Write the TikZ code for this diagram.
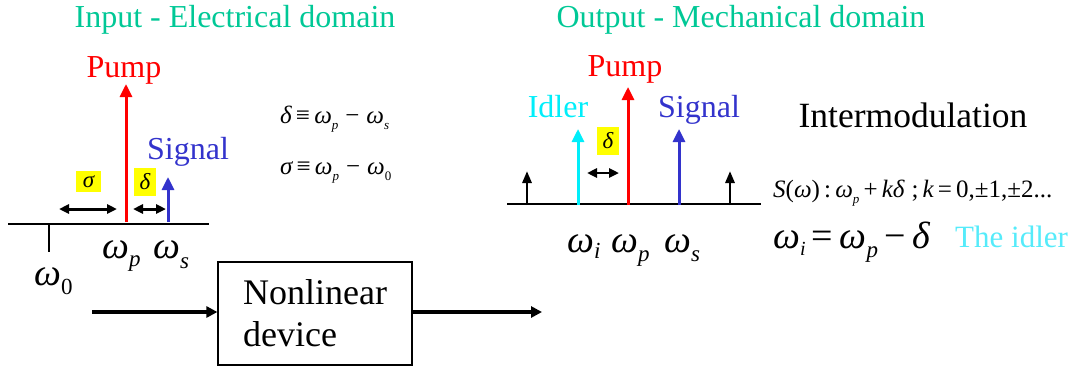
\documentclass[tikz,border=0pt]{standalone}
\usepackage{fontspec}
\setmainfont{Liberation Serif}
\usetikzlibrary{arrows.meta}
\definecolor{titlegreen}{RGB}{0,200,150}
\definecolor{pumpred}{RGB}{255,0,0}
\definecolor{sigblue}{RGB}{51,51,204}
\definecolor{idlercyan}{RGB}{0,238,250}
\definecolor{idlertext}{RGB}{85,235,250}
\definecolor{hiyellow}{RGB}{255,255,0}
\newcommand\fs[1]{\fontsize{#1}{#1}\selectfont}
\newcommand\lsub[3]{\raisebox{#1}{\fs{#2}\itshape #3}}
\begin{document}
\begin{tikzpicture}[x=1pt,y=-1pt,
  txt/.style={inner sep=0pt,anchor=base},
  txtw/.style={inner sep=0pt,anchor=base west},
  spec/.style={line width=3pt,-{Triangle[length=13pt,width=12pt]}},
  small/.style={line width=2.8pt,-{Triangle[length=12pt,width=9pt]}},
  dbl/.style={line width=3pt,{Triangle[length=10pt,width=9pt]}-{Triangle[length=10pt,width=9pt]}},
  axis/.style={line width=2.2pt},
  hl/.style={fill=hiyellow,inner sep=0pt,font=\fs{23}\itshape},
  flow/.style={line width=3.4pt,-{Triangle[length=11pt,width=11pt]}}
]
\useasboundingbox (0,0) rectangle (1076,370);

% titles
\node[txt,text=titlegreen,font=\fs{32}] (tin) at (235,27) {Input - Electrical domain};
\node[txt,text=titlegreen,font=\fs{32}] (tout) at (741,27) {Output - Mechanical domain};

% ---------- left spectrum ----------
\coordinate (la) at (8,224);
\coordinate (lb) at (209,224);
\draw[axis] (la) -- (lb);
\coordinate (t0a) at (49,224);
\coordinate (t0b) at (49,252);
\draw[line width=1.2pt] (t0a) -- (t0b);

\coordinate (lpb) at (126,222);
\coordinate (lpt) at (126,84);
\draw[spec,pumpred] (lpb) -- (lpt);
\coordinate (lsb) at (168,222);
\coordinate (lst) at (168,177);
\draw[spec,sigblue] (lsb) -- (lst);

\coordinate (sga) at (59,209);
\coordinate (sgb) at (117,209);
\draw[dbl] (sga) -- (sgb);
\coordinate (dla) at (133,209);
\coordinate (dlb) at (166,209);
\draw[dbl] (dla) -- (dlb);

\node[hl,minimum width=25pt,minimum height=21pt] (sgbox) at (88.5,181.5) {σ};
\node[hl,minimum width=22pt,minimum height=28pt] (dlbox) at (145,182) {δ};

\node[txt,text=pumpred,font=\fs{32}] (lpump) at (124,77) {Pump};
\node[txt,text=sigblue,font=\fs{32}] (lsig) at (188,159) {Signal};

\node[txtw,font=\fs{38}\itshape] (lwp) at (102,258) {ω\lsub{-8pt}{23}{p}};
\node[txtw,font=\fs{38}\itshape] (lws) at (153,258) {ω\lsub{-10pt}{23}{s}};
\node[txtw,font=\fs{38}\itshape] (lw0) at (34,285) {ω\lsub{-9pt}{23}{\upshape 0}};

\node[txtw,font=\fs{25}] (fd) at (280,123) {{\itshape δ}\,≡\,{\itshape ω}\lsub{-6pt}{13}{p}\;−\;{\itshape ω}\lsub{-6pt}{13}{s}};
\node[txtw,font=\fs{25}] (fs) at (280,174) {{\itshape σ}\,≡\,{\itshape ω}\lsub{-6pt}{13}{p}\;−\;{\itshape ω}\lsub{-6pt}{13}{\upshape 0}};

% ---------- nonlinear device ----------
\node[draw,line width=1.2pt,minimum width=194pt,minimum height=103pt,align=left,
      font=\fontsize{36}{42}\selectfont,inner sep=0pt] (dev) at (315,313.5) {Nonlinear\\device};
\coordinate (inA) at (92,312);
\draw[flow] (inA) -- (inA -| dev.west);
\coordinate (outB) at (542,312);
\draw[flow] (dev.east |- outB) -- (outB);

% ---------- right spectrum ----------
\coordinate (ra) at (507,204);
\coordinate (rb) at (761,204);
\draw[axis] (ra) -- (rb);

\coordinate (k1b) at (527,205);
\coordinate (k1t) at (527,171);
\draw[small] (k1b) -- (k1t);
\coordinate (k2b) at (730,205);
\coordinate (k2t) at (730,171);
\draw[small] (k2b) -- (k2t);
\coordinate (rib) at (578,205);
\coordinate (rit) at (578,129);
\draw[spec,idlercyan] (rib) -- (rit);
\coordinate (rpb) at (628,205);
\coordinate (rpt) at (628,87);
\draw[spec,pumpred] (rpb) -- (rpt);
\coordinate (rsb) at (679,205);
\coordinate (rst) at (679,129);
\draw[spec,sigblue] (rsb) -- (rst);

\coordinate (dra) at (587,173);
\coordinate (drb) at (619,173);
\draw[dbl,line width=2.6pt] (dra) -- (drb);
\node[hl,minimum width=22pt,minimum height=28pt] (drbox) at (608,141) {δ};

\node[txt,text=idlercyan,font=\fs{32}] (ridl) at (558,117) {Idler};
\node[txt,text=pumpred,font=\fs{32}] (rpump) at (625,76) {Pump};
\node[txt,text=sigblue,font=\fs{32}] (rsig) at (699,117) {Signal};

\node[txtw,font=\fs{38}\itshape] (rwi) at (567,252) {ω\lsub{-6pt}{23}{i}};
\node[txtw,font=\fs{38}\itshape] (rwp) at (611,252) {ω\lsub{-9pt}{23}{p}};
\node[txtw,font=\fs{38}\itshape] (rws) at (664,252) {ω\lsub{-9pt}{23}{s}};

\node[txt,font=\fs{35.5}] (inter) at (913,127) {Intermodulation};
\node[txtw,font=\fs{25}] (sw) at (773,197) {{\itshape S}({\itshape ω})\,:\,{\itshape ω}\lsub{-6pt}{13}{p}\,+\,{\itshape kδ}\;;\,{\itshape k}\,=\,0,±1,±2...};
\node[txtw,font=\fs{38}] (wi) at (773,248) {{\itshape ω}\lsub{-7pt}{20}{i}\,=\,{\itshape ω}\lsub{-9pt}{23}{p}\,−\,{\itshape δ}};
\node[txtw,text=idlertext,font=\fs{31}] (tidl) at (955,247) {The idler};
\end{tikzpicture}
\end{document}
